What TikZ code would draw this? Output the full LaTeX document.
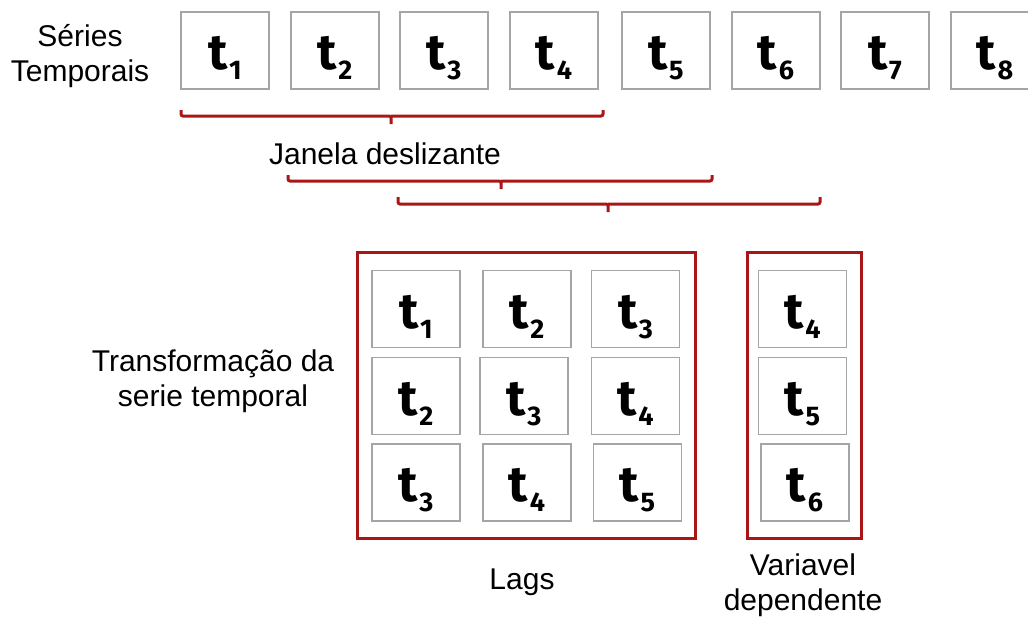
\documentclass[tikz,border=0pt]{standalone}
\usepackage{fontspec}
\setmainfont{Liberation Sans}
\newfontfamily\tfont{Fira Sans}
\usetikzlibrary{calc}
\definecolor{frame}{RGB}{170,22,22}
\definecolor{cellgray}{RGB}{165,165,165}
% bold "t" with a lowered index
\newcommand\tlab[1]{{\tfont\bfseries\fontsize{50}{50}\selectfont t}\kern1.5pt\raisebox{-10pt}{\tfont\bfseries\fontsize{27}{27}\selectfont #1}}
\tikzset{
  cell/.style={draw=cellgray, line width=1.4pt, minimum width=88pt, minimum height=77pt,
    inner sep=0pt, text depth=0pt},
  cellt/.style={cell, node contents={\raisebox{-5pt}{\tlab{#1}}}},
  redframe/.style={draw=frame, line width=3pt, inner sep=0pt},
  bracket/.style={draw=frame, line width=3pt, rounded corners=2pt},
  label/.style={font=\fontsize{30}{35}\selectfont, align=center, inner sep=0pt}
}
\begin{document}
\begin{tikzpicture}[x=1pt,y=-1pt]
\useasboundingbox (0,0) rectangle (1028,618);
% time series row
\foreach \i/\x in {1/225,2/335,3/444,4/554,5/666,6/776,7/885,8/995}
  \node (s\i) at (\x,50.5) [cellt=\i];
\node[label] (series) at (80,56) {Séries\\Temporais};
% sliding windows
\draw[bracket] (181,110) -- (181,116) -- (391,116) -- (391,124) (391,116) -- (603,116) -- (603,110);
\draw[bracket] (288,175) -- (288,181) -- (501,181) -- (501,189) (501,181) -- (712,181) -- (712,175);
\draw[bracket] (398,197) -- (398,204) -- (608,204) -- (608,212) (608,204) -- (820,204) -- (820,197);
\node[label] (janela) at (385,154) {Janela deslizante};
% lag matrix
\node[redframe, minimum width=338pt, minimum height=286pt] (lags) at (526,395) {};
\node (l11) at (416,309) [cellt=1];
\node (l12) at (527,309) [cellt=2];
\node (l13) at (635.5,309) [cellt=3];
\node (l21) at (416,396) [cellt=2];
\node (l22) at (524,396) [cellt=3];
\node (l23) at (635.5,396) [cellt=4];
\node (l31) at (416,482.5) [cellt=3];
\node (l32) at (527,482.5) [cellt=4];
\node (l33) at (637.5,482.5) [cellt=5];
% dependent variable
\node[redframe, minimum width=114pt, minimum height=286pt] (dep) at (804,395) {};
\node (d1) at (802.5,309) [cellt=4];
\node (d2) at (802.5,396) [cellt=5];
\node (d3) at (805,482.5) [cellt=6];
\node[label] (transf) at (213,381) {Transformação da\\serie temporal};
\node[label] (lagtxt) at (522,582) {Lags};
\node[label] (deptxt) at (803,585.5) {Variavel\\dependente};
\end{tikzpicture}
\end{document}
